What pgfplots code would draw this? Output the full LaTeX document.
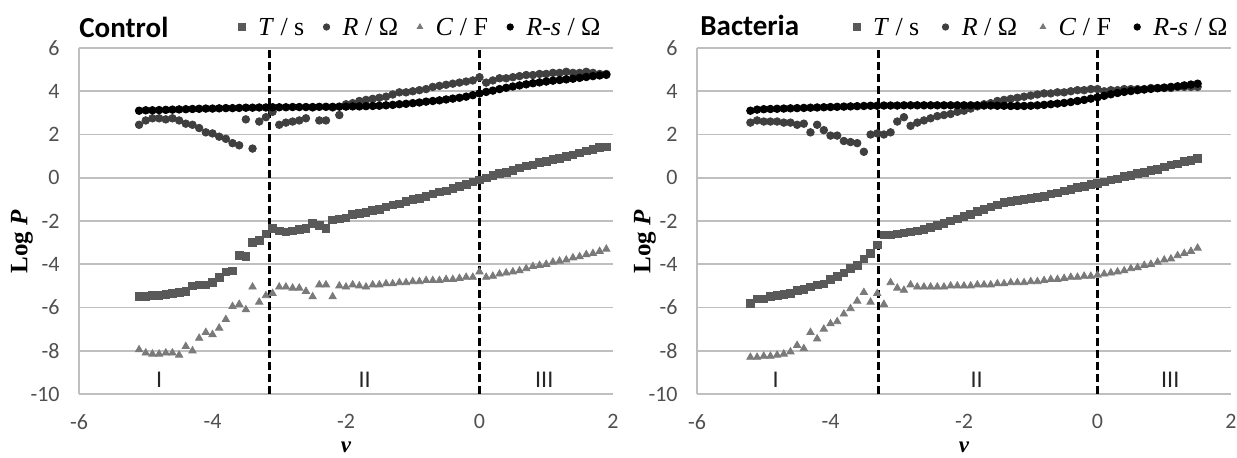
\documentclass[border=0pt]{standalone}
\usepackage{fontspec}
\setmainfont{Liberation Serif}
\newfontfamily\calib{Carlito}
\usepackage{pgfplots}
\usepackage{pgfplotstable}
\pgfplotsset{compat=1.18}

\definecolor{cT}{HTML}{595959}
\definecolor{cR}{HTML}{3F3F3F}
\definecolor{cC}{HTML}{7A7A7A}
\definecolor{cGrid}{HTML}{BFBFBF}
\definecolor{cTick}{HTML}{505050}

% columns: v, T, R, C, Rs
\pgfplotstableread{
x     T      R     C      Rs
-5.1 -5.50  2.45 -7.95  3.10
-5.0 -5.50  2.65 -8.10  3.12
-4.9 -5.45  2.75 -8.15  3.12
-4.8 -5.45  2.75 -8.15  3.13
-4.7 -5.40  2.70 -8.10  3.14
-4.6 -5.35  2.75 -8.10  3.15
-4.5 -5.30  2.65 -8.20  3.16
-4.4 -5.25  2.50 -7.80  3.17
-4.3 -5.00  2.45 -8.00  3.18
-4.2 -4.95  2.30 -7.42  3.19
-4.1 -4.95  2.10 -7.15  3.20
-4.0 -4.85  2.05 -7.25  3.20
-3.9 -4.60  1.90 -6.95  3.21
-3.8 -4.35  1.80 -6.55  3.22
-3.7 -4.30  1.60 -5.95  3.22
-3.6 -3.60  1.50 -5.85  3.23
-3.5 -3.65  2.70 -6.10  3.24
-3.4 -3.00  1.35 -5.05  3.24
-3.3 -2.90  2.60 -5.75  3.25
-3.2 -2.60  2.80 -5.45  3.25
-3.1 -2.35  3.05 -5.35  3.26
-3.0 -2.45  2.45 -5.05  3.26
-2.9 -2.50  2.55 -5.05  3.26
-2.8 -2.45  2.60 -5.10  3.27
-2.7 -2.40  2.65 -5.10  3.27
-2.6 -2.35  2.75 -5.25  3.27
-2.5 -2.10  3.25 -5.50  3.27
-2.4 -2.20  2.65 -4.95  3.28
-2.3 -2.35  2.65 -4.95  3.28
-2.2 -1.95  3.25 -5.50  3.28
-2.1 -1.90  2.90 -5.00  3.29
-2.0 -1.85  3.40 -5.05  3.29
-1.9 -1.70  3.45 -4.95  3.30
-1.8 -1.65  3.55 -5.00  3.30
-1.7 -1.60  3.60 -5.05  3.31
-1.6 -1.50  3.65 -4.95  3.32
-1.5 -1.45  3.70 -4.95  3.33
-1.4 -1.35  3.75 -4.90  3.35
-1.3 -1.25  3.85 -4.90  3.37
-1.2 -1.20  3.95 -4.85  3.40
-1.1 -1.10  3.95 -4.85  3.42
-1.0 -1.00  4.00 -4.80  3.45
-0.9 -0.95  4.05 -4.80  3.48
-0.8 -0.85  4.10 -4.75  3.52
-0.7 -0.75  4.20 -4.75  3.55
-0.6 -0.65  4.25 -4.75  3.58
-0.5 -0.60  4.30 -4.70  3.62
-0.4 -0.50  4.35 -4.70  3.66
-0.3 -0.40  4.40 -4.65  3.70
-0.2 -0.30  4.45 -4.60  3.75
-0.1 -0.20  4.50 -4.60  3.82
 0.0 -0.10  4.65 -4.35  3.90
 0.1  0.00  4.40 -4.60  3.97
 0.2  0.10  4.50 -4.55  4.03
 0.3  0.20  4.60 -4.45  4.10
 0.4  0.25  4.60 -4.40  4.16
 0.5  0.35  4.65 -4.35  4.22
 0.6  0.45  4.70 -4.30  4.27
 0.7  0.55  4.75 -4.20  4.32
 0.8  0.60  4.75 -4.10  4.37
 0.9  0.70  4.80 -4.05  4.41
 1.0  0.75  4.80 -4.00  4.45
 1.1  0.85  4.85 -3.90  4.49
 1.2  0.90  4.85 -3.85  4.52
 1.3  1.00  4.90 -3.80  4.55
 1.4  1.05  4.85 -3.70  4.58
 1.5  1.15  4.85 -3.65  4.62
 1.6  1.25  4.90 -3.55  4.66
 1.7  1.30  4.85 -3.50  4.70
 1.8  1.40  4.80 -3.40  4.73
 1.9  1.42  4.80 -3.30  4.76
}\control

\pgfplotstableread{
x     T      R     C      Rs
-5.2 -5.80  2.55 -8.30  3.10
-5.1 -5.60  2.65 -8.30  3.15
-5.0 -5.60  2.60 -8.25  3.17
-4.9 -5.50  2.60 -8.25  3.18
-4.8 -5.45  2.60 -8.20  3.19
-4.7 -5.40  2.55 -8.15  3.20
-4.6 -5.35  2.55 -8.05  3.21
-4.5 -5.20  2.45 -7.75  3.22
-4.4 -5.15  2.50 -7.90  3.23
-4.3 -5.05  2.10 -7.15  3.24
-4.2 -4.95  2.45 -7.45  3.25
-4.1 -4.90  2.20 -7.00  3.26
-4.0 -4.70  1.95 -6.75  3.27
-3.9 -4.55  1.95 -6.65  3.28
-3.8 -4.40  1.70 -6.30  3.29
-3.7 -4.20  1.65 -6.05  3.30
-3.6 -4.05  1.60 -5.70  3.31
-3.5 -3.75  1.20 -5.30  3.32
-3.4 -3.50  2.00 -5.75  3.33
-3.3 -3.10  2.05 -5.35  3.33
-3.2 -2.65  2.00 -5.85  3.34
-3.1 -2.65  2.10 -4.85  3.34
-3.0 -2.60  2.60 -5.10  3.34
-2.9 -2.55  2.80 -5.20  3.35
-2.8 -2.50  2.40 -4.95  3.35
-2.7 -2.45  2.55 -5.05  3.35
-2.6 -2.40  2.65 -5.05  3.35
-2.5 -2.30  2.75 -5.05  3.35
-2.4 -2.20  2.85 -5.05  3.35
-2.3 -2.10  2.90 -5.05  3.35
-2.2 -2.00  2.95 -5.00  3.35
-2.1 -1.90  3.05 -5.00  3.35
-2.0 -1.80  3.10 -5.00  3.35
-1.9 -1.70  3.20 -5.00  3.35
-1.8 -1.55  3.30 -4.95  3.35
-1.7 -1.45  3.40 -4.95  3.34
-1.6 -1.35  3.45 -4.95  3.34
-1.5 -1.25  3.55 -4.90  3.33
-1.4 -1.15  3.60 -4.90  3.33
-1.3 -1.10  3.65 -4.85  3.32
-1.2 -1.05  3.70 -4.85  3.32
-1.1 -1.00  3.75 -4.85  3.32
-1.0 -0.95  3.80 -4.80  3.33
-0.9 -0.90  3.85 -4.80  3.35
-0.8 -0.85  3.90 -4.75  3.37
-0.7 -0.75  3.90 -4.70  3.40
-0.6 -0.70  3.95 -4.70  3.43
-0.5 -0.60  3.95 -4.65  3.46
-0.4 -0.55  4.00 -4.60  3.50
-0.3 -0.45  4.05 -4.60  3.55
-0.2 -0.40  4.05 -4.55  3.60
-0.1 -0.30  4.10 -4.55  3.66
 0.0 -0.25  4.10 -4.50  3.72
 0.1 -0.20  4.00 -4.45  3.79
 0.2 -0.10  4.05 -4.40  3.86
 0.3 -0.05  4.05 -4.35  3.92
 0.4  0.05  4.10 -4.30  3.97
 0.5  0.10  4.10 -4.20  4.01
 0.6  0.20  4.10 -4.15  4.05
 0.7  0.25  4.10 -4.05  4.08
 0.8  0.35  4.15 -4.00  4.11
 0.9  0.40  4.15 -3.90  4.14
 1.0  0.50  4.15 -3.80  4.17
 1.1  0.60  4.15 -3.75  4.20
 1.2  0.65  4.20 -3.60  4.23
 1.3  0.75  4.20 -3.50  4.27
 1.4  0.80  4.20 -3.40  4.31
 1.5  0.90  4.20 -3.25  4.35
}\bacteria

\tikzset{roman/.style={font=\calib\fontsize{12}{14}\selectfont, text=black!85}}

\pgfplotsset{
  smallmark/.style={legend image code/.code={\draw[##1,mark size=1.6pt] plot coordinates {(0pt,0pt)};}},
  panel/.style={
    scale only axis, width=267pt, height=173pt,
    xmin=-6, xmax=2, ymin=-10, ymax=6,
    xtick={-6,-4,-2,0,2}, xticklabels={-6,-4,-2,0,2},
    ytick={-10,-8,-6,-4,-2,0,2,4,6},
    yticklabels={-10,-8,-6,-4,-2,0,2,4,6},
    axis x line*=bottom, axis y line*=left,
    axis line style={-, cGrid, line width=0.8pt},
    ymajorgrids, major grid style={cGrid, line width=0.8pt},
    major tick length=0pt, tick style={draw=none},
    ticklabel style={font=\calib\fontsize{11}{13}\selectfont, text=cTick, inner sep=0pt},
    xticklabel style={yshift=-10pt},
    yticklabel style={xshift=-9.5pt},
    clip=false,
    legend columns=4,
    legend style={draw=none, fill=none, inner sep=0pt,
      font=\fontsize{13}{15}\selectfont,
      nodes={inner sep=0pt, text depth=0pt}, cells={anchor=west},
      at={(1,1)}, anchor=south east, yshift=6pt,
      /tikz/every odd column/.append style={column sep=6.5pt}},
  },
  sT/.style={only marks, mark=square*, mark size=1.9pt, color=cT, smallmark},
  sR/.style={only marks, mark=*, mark size=1.9pt, color=cR, smallmark},
  sC/.style={only marks, mark=triangle*, mark size=2.1pt, color=cC, smallmark},
  sRs/.style={only marks, mark=*, mark size=1.9pt, color=black, smallmark},
  vdash/.style={black, line width=1.4pt, dash pattern=on 4pt off 2pt, forget plot},
}

\begin{document}
\begin{tikzpicture}
\useasboundingbox (0,0) rectangle (618.5pt,228.5pt);

\begin{axis}[panel, at={(39.5pt,31.5pt)}, anchor=south west,
  legend style={xshift=-6pt,
    /tikz/every even column/.append style={column sep=9.5pt}}]
  \addplot[vdash] coordinates {(-3.15,-10) (-3.15,6)};
  \addplot[vdash] coordinates {(0,-10) (0,6)};
  \addplot[sT] table[x=x, y=T] {\control};
  \addlegendentry{\textit{T} / s}
  \addplot[sR] table[x=x, y=R] {\control};
  \addlegendentry{\textit{R} / Ω}
  \addplot[sC] table[x=x, y=C] {\control};
  \addlegendentry{\textit{C} / F}
  \addplot[sRs] table[x=x, y=Rs] {\control};
  \addlegendentry{\textit{R-s} / Ω}
  \node[anchor=base west, inner sep=0pt, font=\calib\bfseries\fontsize{14.5}{16}\selectfont]
    at ([yshift=5.5pt]rel axis cs:0,1) {Control};
  \node[rotate=90, inner sep=0pt, font=\bfseries\fontsize{12.5}{14}\selectfont]
    at ([xshift=-28.5pt]rel axis cs:0,0.44) {Log \textit{P}};
  \node[anchor=north, inner sep=0pt, font=\bfseries\itshape\fontsize{11.5}{13}\selectfont]
    at ([yshift=-24pt]rel axis cs:0.5,0) {v};
  \node[roman] at (axis cs:-4.8,-9.35) {I};
  \node[roman] at (axis cs:-1.72,-9.35) {II};
  \node[roman] at (axis cs:0.97,-9.35) {III};
\end{axis}

\begin{axis}[panel, at={(348.5pt,31.5pt)}, anchor=south west,
  legend style={xshift=-1.5pt,
    /tikz/every even column/.append style={column sep=11.5pt}}]
  \addplot[vdash] coordinates {(-3.28,-10) (-3.28,6)};
  \addplot[vdash] coordinates {(0,-10) (0,6)};
  \addplot[sT] table[x=x, y=T] {\bacteria};
  \addlegendentry{\textit{T} / s}
  \addplot[sR] table[x=x, y=R] {\bacteria};
  \addlegendentry{\textit{R} / Ω}
  \addplot[sC] table[x=x, y=C] {\bacteria};
  \addlegendentry{\textit{C} / F}
  \addplot[sRs] table[x=x, y=Rs] {\bacteria};
  \addlegendentry{\textit{R-s} / Ω}
  \node[anchor=base west, inner sep=0pt, font=\calib\bfseries\fontsize{14.5}{16}\selectfont]
    at ([xshift=1.5pt,yshift=6.5pt]rel axis cs:0,1) {Bacteria};
  \node[rotate=90, inner sep=0pt, font=\bfseries\fontsize{12.5}{14}\selectfont]
    at ([xshift=-26pt]rel axis cs:0,0.44) {Log \textit{P}};
  \node[anchor=north, inner sep=0pt, font=\bfseries\itshape\fontsize{11.5}{13}\selectfont]
    at ([yshift=-24pt]rel axis cs:0.5,0) {v};
  \node[roman] at (axis cs:-4.82,-9.35) {I};
  \node[roman] at (axis cs:-1.81,-9.35) {II};
  \node[roman] at (axis cs:1.09,-9.35) {III};
\end{axis}
\end{tikzpicture}
\end{document}
